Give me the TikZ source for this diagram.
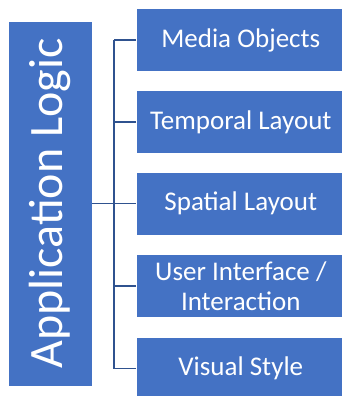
\documentclass[tikz,border=0pt]{standalone}
\usepackage{fontspec}
\setmainfont{Carlito}
\definecolor{boxblue}{HTML}{4472C4}
\definecolor{linkblue}{HTML}{2F528F}
\begin{document}
\begin{tikzpicture}[x=1pt,y=-1pt,
  block/.style={fill=boxblue, draw=white, line width=0.6pt, inner sep=0pt},
  part/.style={block, minimum width=209pt, minimum height=63pt, anchor=west,
    text=white, align=center, font=\fontsize{27}{30}\selectfont},
  link/.style={draw=linkblue, line width=1.5pt}]
\useasboundingbox (0,0) rectangle (342,396);

% main block with vertical title
\node[block, minimum width=84pt, minimum height=365pt] (app) at (50,203.5) {};
\node[rotate=90, text=white, font=\fontsize{48}{56}\selectfont] (title) at (app.center) {Application Logic};

% the five parts
\node[part] (media)    at (136,40)    {Media Objects};
\node[part] (temporal) at (136,122)   {Temporal Layout};
\node[part] (spatial)  at (136,203.5) {Spatial Layout};
\node[part] (ui)       at (136,286)   {User Interface /\\Interaction};
\node[part] (visual)   at (136,368.5) {Visual Style};

% tree connectors
\coordinate (top) at ([xshift=-22pt]media.west);
\coordinate (bottom) at ([xshift=-22pt]visual.west);
\draw[link] (top) -- (bottom);
\draw[link] (app.east) -- (spatial.west);
\foreach \n in {media,temporal,ui,visual}
  \draw[link] (\n.west) -- ++(-22pt,0);
\end{tikzpicture}
\end{document}
